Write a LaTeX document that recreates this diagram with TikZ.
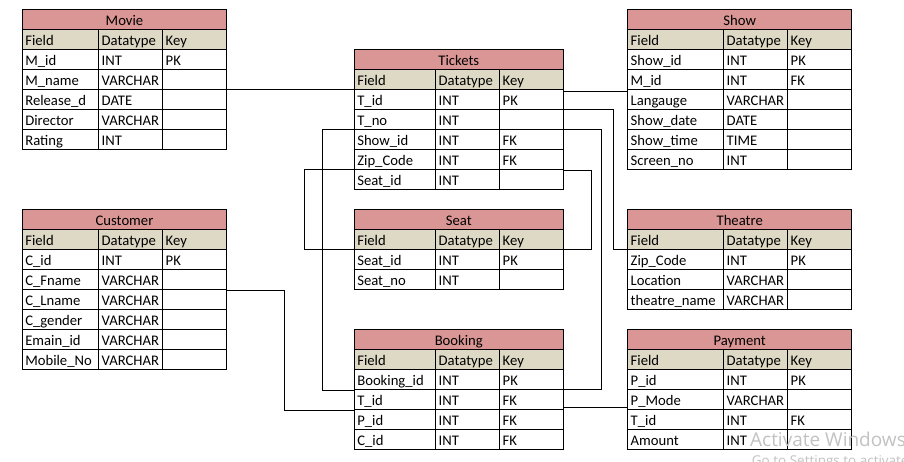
\documentclass[tikz,border=0pt]{standalone}
\usepackage{fontspec}
\setmainfont{Carlito}
\newfontfamily\wmfont{Open Sans}
\definecolor{titlered}{HTML}{DA9694}
\definecolor{headtan}{HTML}{DDD9C4}
\newcommand\tblfont{\fontsize{14.67}{17}\selectfont}
\tikzset{
  cellbase/.style={draw=black, line width=0.9pt, inner xsep=3pt, inner ysep=0pt,
    outer sep=0pt, minimum height=20pt, text height=14pt, text depth=2pt,
    font=\tblfont, anchor=north west},
  titlecell/.style={cellbase, fill=titlered, align=center},
  headcell/.style={cellbase, fill=headtan, align=left},
  bodycell/.style={cellbase, fill=white, align=left},
  conn/.style={draw=black, line width=0.9pt},
  wmark/.style={inner sep=0pt, anchor=base west, text=black!24}
}
% #1 name, #2 x, #3 y, #4 #5 #6 column widths, #7 title, #8 rows
\newcommand\ertable[8]{%
  \pgfmathsetmacro\erwa{#4-6}%
  \pgfmathsetmacro\erwb{#5-6}%
  \pgfmathsetmacro\erwc{#6-6}%
  \pgfmathsetmacro\erwt{#4+#5+#6-6}%
  \node[titlecell, text width=\erwt pt] (#1-t) at (#2,#3) {#7};
  \node[headcell, text width=\erwa pt] (#1-0-1) at (#1-t.south west) {Field};
  \node[headcell, text width=\erwb pt] (#1-0-2) at (#1-0-1.north east) {Datatype};
  \node[headcell, text width=\erwc pt] (#1-0-3) at (#1-0-2.north east) {Key};
  \foreach \f/\d/\k [count=\i, remember=\i as \j (initially 0)] in {#8} {
    \node[bodycell, text width=\erwa pt] (#1-\i-1) at (#1-\j-1.south west) {\f};
    \node[bodycell, text width=\erwb pt] (#1-\i-2) at (#1-\i-1.north east) {\d};
    \node[bodycell, text width=\erwc pt] (#1-\i-3) at (#1-\i-2.north east) {\k};
  }%
}
\begin{document}
\begin{tikzpicture}[x=1pt, y=-1pt]
\fill[white] (0,0) rectangle (904,461);
\useasboundingbox (0,0) rectangle (904,461);

\ertable{movie}{22.3}{9.3}{76.4}{64}{64}{Movie}{%
  M\_id/INT/PK, M\_name/VARCHAR/{}, Release\_d/DATE/{}, Director/VARCHAR/{}, Rating/INT/{}}
\ertable{customer}{22.3}{209.3}{76.4}{64}{64}{Customer}{%
  C\_id/INT/PK, C\_Fname/VARCHAR/{}, C\_Lname/VARCHAR/{}, C\_gender/VARCHAR/{},
  Emain\_id/VARCHAR/{}, Mobile\_No/VARCHAR/{}}
\ertable{tickets}{354.3}{49.3}{81.4}{64}{63.6}{Tickets}{%
  T\_id/INT/PK, T\_no/INT/{}, Show\_id/INT/FK, Zip\_Code/INT/FK, Seat\_id/INT/{}}
\ertable{seat}{354.3}{209.3}{81.4}{64}{63.6}{Seat}{%
  Seat\_id/INT/PK, Seat\_no/INT/{}}
\ertable{booking}{354.3}{329.3}{81.4}{64}{63.6}{Booking}{%
  Booking\_id/INT/PK, T\_id/INT/FK, P\_id/INT/FK, C\_id/INT/FK}
\ertable{show}{627.7}{9.3}{96}{64}{64}{Show}{%
  Show\_id/INT/PK, M\_id/INT/FK, Langauge/VARCHAR/{}, Show\_date/DATE/{},
  Show\_time/TIME/{}, Screen\_no/INT/{}}
\ertable{theatre}{627.7}{209.3}{96}{64}{64}{Theatre}{%
  Zip\_Code/INT/PK, Location/VARCHAR/{}, theatre\_name/VARCHAR/{}}
\ertable{payment}{627.7}{329.3}{96}{64}{64}{Payment}{%
  P\_id/INT/PK, P\_Mode/VARCHAR/{}, T\_id/INT/FK, Amount/INT/{}}

% connectors
\draw[conn] (movie-2-3.south east) -- (tickets-0-1.south west);
\draw[conn] ([yshift=-2pt]tickets-1-3.north east) -- ([yshift=-2pt]show-3-1.north west);
\draw[conn] (tickets-1-3.south east) -- ++(50.3,0) |- (theatre-1-1.north west);
\draw[conn] (tickets-2-3.south east) -- ++(38,0) |- (booking-1-3.south east);
\draw[conn] ([yshift=-1pt]tickets-4-3.south east) -- ++(28.3,0) |- (seat-0-3.south east);
\draw[conn] (tickets-2-1.south west) -- ++(-31.8,0) |- ([yshift=-1pt]booking-1-1.south west);
\draw[conn] (tickets-4-1.south west) -- ++(-50.3,0) |- (seat-0-1.south west);
\draw[conn] ([yshift=-1pt]customer-2-3.south east) -- ++(57.6,0) |- ([yshift=-1pt]booking-2-1.south west);
\draw[conn] ([yshift=2pt]booking-2-3.south east) -- ([yshift=2pt]payment-2-1.south west);

% watermark
\node[wmark, font=\wmfont\fontsize{19}{22}\selectfont] (wm1) at (750,446) {Activate Windows};
\node[wmark, font=\wmfont\fontsize{13.5}{16}\selectfont] (wm2) at (751.7,465.5) {Go to Settings to activate Windows.};
\end{tikzpicture}
\end{document}
